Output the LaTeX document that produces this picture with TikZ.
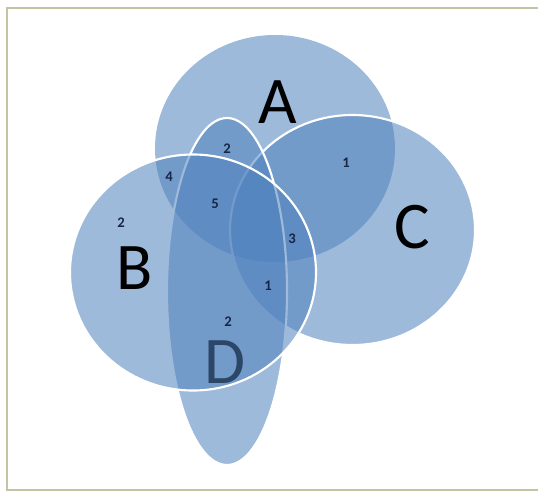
\documentclass[tikz,border=0pt]{standalone}
\usepackage{fontspec}
\setmainfont{Carlito}
\definecolor{setblue}{RGB}{79,129,189}
\definecolor{framegray}{RGB}{196,196,164}
\definecolor{countblue}{RGB}{24,38,72}

\begin{document}
\begin{tikzpicture}[
		x=0.75pt,y=-0.75pt,
		set/.style={fill=setblue, fill opacity=0.55},
		rim/.style={draw=white, line width=1.6pt},
		setname/.style={font=\fontsize{50}{50}\selectfont, text=black, inner sep=0pt},
		count/.style={font=\bfseries\fontsize{11}{11}\selectfont, text=countblue, inner sep=0pt}
		]
		\useasboundingbox (0,0) rectangle (538,492);
		
		% =========================
		% frame
		% =========================
		\draw[framegray, line width=1.5pt] (538,8) -- (7,8) -- (7,490) -- (538,490);
		
		% =========================
		% sets, back to front
		% =========================
		\path[set] (275,148.5) ellipse [x radius=120, y radius=113.5];
		\path[set, rim] (352.5,230) ellipse [x radius=122.5, y radius=115];
		\path[set, rim] (227,291.5) ellipse [x radius=60, y radius=173.5];
		
		% D sits under the fill of B
		\node[setname] (nameD) at (225,362) {D};
		
		\path[set, rim] (193,272.5) ellipse [x radius=123, y radius=118];
		
		% set names
		\node[setname] (nameA) at (278,102) {A};
		\node[setname] (nameB) at (135,268) {B};
		\node[setname] (nameC) at (412,227) {C};
		
		% =========================
		% counts per region
		% =========================
		\node[count] (nAD)   at (227,149) {2};
		\node[count] (nAB)   at (169,177) {4};
		\node[count] (nABD)  at (215,204) {5};
		\node[count] (nABC)  at (292,239) {3};
		\node[count] (nBCD)  at (268,286) {1};
		\node[count] (nB)    at (121,223) {2};
		\node[count] (nAC)   at (346,163) {1};
		\node[count] (nBD)   at (228,322) {2};
		
	\end{tikzpicture}
\end{document}
